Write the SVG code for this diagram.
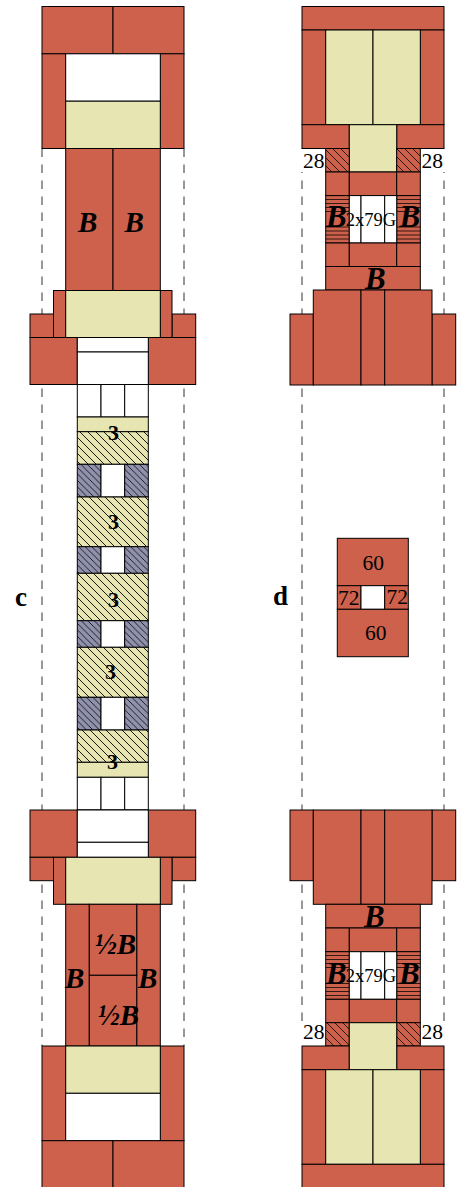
<svg xmlns="http://www.w3.org/2000/svg" width="461" height="1187" viewBox="0 0 461 1187">
<style>
rect{stroke:#000;stroke-width:1}
.r{fill:#cd614c}.y{fill:#e7e5b2}.w{fill:#fff}.b{fill:#9091ac}
.hy{fill:url(#hy)}.hb{fill:url(#hb)}.hr{fill:url(#hr)}
.bg{fill:#fff;stroke:none}
.d{stroke:#333;stroke-width:1;stroke-dasharray:8.5 7.5;fill:none}
.h{stroke:#000;stroke-width:1;opacity:.75}
text{font-family:"Liberation Serif","Times New Roman",serif;fill:#000}
.B{font-size:29px;font-weight:bold;font-style:italic}
.C{font-size:31px;font-weight:bold;font-style:italic}
.n{font-size:21.500px}
.g{font-size:18.500px}
.t{font-size:22px;font-weight:bold}
.l{font-size:27px;font-weight:bold}
</style>
<defs>
<pattern id="hy" patternUnits="userSpaceOnUse" width="8" height="8"><rect width="8" height="8" style="fill:#e7e5b2;stroke:none"/><path d="M-1,-1L9,9M-1,7L1,9M7,-1L9,1" stroke="#000" stroke-width="0.9"/></pattern>
<pattern id="hb" patternUnits="userSpaceOnUse" width="6.500" height="6.500"><rect width="6.500" height="6.500" style="fill:#9091ac;stroke:none"/><path d="M-1,-1L7.500,7.500M-1,5.500L1,7.500M5.500,-1L7.500,1" stroke="#000" stroke-width="0.8"/></pattern>
<pattern id="hr" patternUnits="userSpaceOnUse" width="8" height="8"><rect width="8" height="8" style="fill:#cd614c;stroke:none"/><path d="M-1,-1L9,9M-1,7L1,9M7,-1L9,1" stroke="#000" stroke-width="0.8"/></pattern>
</defs>
<g id="connectors">
<path class="d" d="M42,148.500V1046M184,148.500V1046M302,148.500V1046M444,148.500V1046"/>
</g>
<g id="label-c"><text class="l" x="15" y="606">c</text></g>
<g id="label-d"><text class="l" x="273" y="605">d</text></g>
<g id="c-top">
<rect class="r" x="42" y="6.500" width="71" height="47.300"/><rect class="r" x="113" y="6.500" width="71" height="47.300"/>
<rect class="r" x="42" y="53.800" width="23.700" height="94.700"/><rect class="r" x="160.300" y="53.800" width="23.700" height="94.700"/>
<rect class="w" x="65.700" y="53.800" width="94.600" height="47.400"/><rect class="y" x="65.700" y="101.200" width="94.600" height="47.300"/>
</g>
<g id="c-top-column">
<rect class="r" x="65.700" y="148.500" width="47.300" height="142"/><rect class="r" x="113" y="148.500" width="47.300" height="142"/>
<text class="B" x="78" y="232">B</text><text class="B" x="124.500" y="232">B</text>
</g>
<g id="c-top-flange">
<rect class="r" x="30" y="314" width="23.500" height="23.500"/><rect class="r" x="172" y="314" width="23.700" height="23.500"/>
<rect class="r" x="53.500" y="290.500" width="12.200" height="47"/><rect class="r" x="160.300" y="290.500" width="11.700" height="47"/>
<rect class="y" x="65.700" y="290.500" width="94.600" height="47"/>
<rect class="r" x="30" y="337.500" width="47.300" height="47"/><rect class="r" x="148.300" y="337.500" width="47.400" height="47"/>
<rect class="w" x="77.300" y="337.500" width="71" height="14.500"/><rect class="w" x="77.300" y="352" width="71" height="32.500"/>
</g>
<g id="c-stack">
<rect class="w" x="77.300" y="384.500" width="23.700" height="32.500"/><rect class="w" x="101" y="384.500" width="23.700" height="32.500"/><rect class="w" x="124.700" y="384.500" width="23.600" height="32.500"/>
<rect class="y" x="77.300" y="417" width="71" height="14.700"/>
<rect class="hy" x="77.300" y="431.700" width="71" height="32.600"/>
<rect class="hb" x="77.300" y="464.300" width="23.700" height="32.700"/><rect class="w" x="101" y="464.300" width="23.700" height="32.700"/><rect class="hb" x="124.700" y="464.300" width="23.600" height="32.700"/>
<rect class="hy" x="77.300" y="497" width="71" height="49.700"/>
<rect class="hb" x="77.300" y="546.700" width="23.700" height="26.600"/><rect class="w" x="101" y="546.700" width="23.700" height="26.600"/><rect class="hb" x="124.700" y="546.700" width="23.600" height="26.600"/>
<rect class="hy" x="77.300" y="573.300" width="71" height="47.400"/>
<rect class="hb" x="77.300" y="620.700" width="23.700" height="26.600"/><rect class="w" x="101" y="620.700" width="23.700" height="26.600"/><rect class="hb" x="124.700" y="620.700" width="23.600" height="26.600"/>
<rect class="hy" x="77.300" y="647.300" width="71" height="50"/>
<rect class="hb" x="77.300" y="697.300" width="23.700" height="32.700"/><rect class="w" x="101" y="697.300" width="23.700" height="32.700"/><rect class="hb" x="124.700" y="697.300" width="23.600" height="32.700"/>
<rect class="hy" x="77.300" y="730" width="71" height="32.300"/>
<rect class="y" x="77.300" y="762.300" width="71" height="15"/>
<rect class="w" x="77.300" y="777.300" width="23.700" height="32.500"/><rect class="w" x="101" y="777.300" width="23.700" height="32.500"/><rect class="w" x="124.700" y="777.300" width="23.600" height="32.500"/>
<text class="t" x="108" y="440">3</text><text class="t" x="108" y="529">3</text><text class="t" x="108" y="606.500">3</text><text class="t" x="105" y="679">3</text><text class="t" x="107" y="768.500">3</text>
</g>
<g id="c-bottom-flange">
<rect class="r" x="30" y="810" width="47.300" height="47.300"/><rect class="r" x="148.300" y="810" width="47.400" height="47.300"/>
<rect class="w" x="77.300" y="810" width="71" height="32.300"/><rect class="w" x="77.300" y="842.300" width="71" height="15"/>
<rect class="r" x="30" y="857.300" width="23.500" height="23.400"/><rect class="r" x="172" y="857.300" width="23.700" height="23.400"/>
<rect class="r" x="53.500" y="857.300" width="12.200" height="47"/><rect class="r" x="160.300" y="857.300" width="11.700" height="47"/>
<rect class="y" x="65.700" y="857.300" width="94.600" height="47"/>
</g>
<g id="c-bottom-column">
<rect class="r" x="65.700" y="904.300" width="23.600" height="141.700"/><rect class="r" x="136.700" y="904.300" width="23.600" height="141.700"/>
<rect class="r" x="89.300" y="904.300" width="47.400" height="71"/><rect class="r" x="89.300" y="975.300" width="47.400" height="70.700"/>
<text class="B" x="95" y="954">½B</text><text class="B" x="98" y="1025">½B</text>
<text class="B" x="65" y="988">B</text><text class="B" x="138" y="988">B</text>
</g>
<g id="c-bottom">
<rect class="r" x="42" y="1046" width="23.700" height="94.700"/><rect class="r" x="160.300" y="1046" width="23.700" height="94.700"/>
<rect class="y" x="65.700" y="1046" width="94.600" height="47.300"/><rect class="w" x="65.700" y="1093.300" width="94.600" height="47.400"/>
<rect class="r" x="42" y="1140.700" width="71" height="47"/><rect class="r" x="113" y="1140.700" width="71" height="47"/>
</g>
<g id="d-top">
<rect class="r" x="302" y="6.500" width="142" height="23.500"/>
<rect class="r" x="302" y="30" width="23.700" height="94.700"/><rect class="r" x="420.300" y="30" width="23.700" height="94.700"/>
<rect class="y" x="325.700" y="30" width="47.300" height="94.700"/><rect class="y" x="373" y="30" width="47.300" height="94.700"/>
<rect class="r" x="302" y="124.700" width="47.300" height="23.800"/><rect class="r" x="396.700" y="124.700" width="47.300" height="23.800"/>
<rect class="y" x="349.300" y="124.700" width="47.400" height="47.300"/>
</g>
<g id="d-top-coil">
<rect class="bg" x="298" y="149" width="27.200" height="23"/><rect class="bg" x="420.800" y="149" width="27.200" height="23"/>
<rect class="hr" x="325.700" y="148.500" width="23.600" height="23.500"/><rect class="hr" x="396.700" y="148.500" width="23.600" height="23.500"/>
<text class="n" x="303" y="168">28</text><text class="n" x="421.500" y="168">28</text>
<rect class="r" x="325.700" y="172" width="23.600" height="23.600"/><rect class="r" x="349.300" y="172" width="47.400" height="23.600"/><rect class="r" x="396.700" y="172" width="23.600" height="23.600"/>
<rect class="r" x="325.700" y="195.600" width="23.600" height="47.400"/><rect class="r" x="396.700" y="195.600" width="23.600" height="47.400"/>
<path class="h" d="M325.700,199.500H349.300M325.700,203.500H349.300M325.700,207.500H349.300M325.700,211.500H349.300M325.700,227H349.300M325.700,231H349.300M325.700,235H349.300M325.700,239H349.300M396.700,199.500H420.300M396.700,203.500H420.300M396.700,207.500H420.300M396.700,211.500H420.300M396.700,227H420.300M396.700,231H420.300M396.700,235H420.300M396.700,239H420.300"/>
<rect class="w" x="349.300" y="195.600" width="11.700" height="47.400"/><rect class="w" x="361" y="195.600" width="23.700" height="47.400"/><rect class="w" x="384.700" y="195.600" width="12" height="47.400"/>
<rect class="r" x="325.700" y="243" width="23.600" height="23.500"/><rect class="r" x="349.300" y="243" width="47.400" height="23.500"/><rect class="r" x="396.700" y="243" width="23.600" height="23.500"/>
<rect class="r" x="325.700" y="266.500" width="94.600" height="23.500"/>
<text class="C" x="326" y="227">B</text><text class="C" x="399.500" y="227">B</text><text class="g" x="345.700" y="226">2x79G</text><text class="C" x="365" y="288.500">B</text>
</g>
<g id="d-top-flange">
<rect class="r" x="290" y="314" width="23.300" height="71"/><rect class="r" x="432" y="314" width="23.700" height="71"/>
<rect class="r" x="313.300" y="290" width="47.700" height="95"/><rect class="r" x="361" y="290" width="23.700" height="95"/><rect class="r" x="384.700" y="290" width="47.300" height="95"/>
</g>
<g id="d-middle">
<rect class="r" x="337.300" y="538.300" width="71" height="47.400"/>
<rect class="r" x="337.300" y="585.700" width="23.700" height="23.600"/><rect class="w" x="361" y="585.700" width="23.700" height="23.600"/><rect class="r" x="384.700" y="585.700" width="23.600" height="23.600"/>
<rect class="r" x="337.300" y="609.300" width="71" height="47.400"/>
<text class="n" x="362.500" y="570">60</text><text class="n" x="365" y="640">60</text><text class="n" x="338" y="605">72</text><text class="n" x="386.500" y="603.500">72</text>
</g>
<g id="d-bottom-flange">
<rect class="r" x="290" y="810" width="23.300" height="70.700"/><rect class="r" x="432" y="810" width="23.700" height="70.700"/>
<rect class="r" x="313.300" y="810" width="47.700" height="94.300"/><rect class="r" x="361" y="810" width="23.700" height="94.300"/><rect class="r" x="384.700" y="810" width="47.300" height="94.300"/>
</g>
<g id="d-bottom-coil">
<rect class="r" x="325.700" y="904.300" width="94.600" height="23.700"/>
<rect class="r" x="325.700" y="928" width="23.600" height="23.700"/><rect class="r" x="349.300" y="928" width="47.400" height="23.700"/><rect class="r" x="396.700" y="928" width="23.600" height="23.700"/>
<rect class="r" x="325.700" y="951.700" width="23.600" height="47.600"/><rect class="r" x="396.700" y="951.700" width="23.600" height="47.600"/>
<path class="h" d="M325.700,955.500H349.300M325.700,959.500H349.300M325.700,963.500H349.300M325.700,967.500H349.300M325.700,983.500H349.300M325.700,987.500H349.300M325.700,991.500H349.300M325.700,995.500H349.300M396.700,955.500H420.300M396.700,959.500H420.300M396.700,963.500H420.300M396.700,967.500H420.300M396.700,983.500H420.300M396.700,987.500H420.300M396.700,991.500H420.300M396.700,995.500H420.300"/>
<rect class="w" x="349.300" y="951.700" width="11.700" height="47.600"/><rect class="w" x="361" y="951.700" width="23.700" height="47.600"/><rect class="w" x="384.700" y="951.700" width="12" height="47.600"/>
<rect class="r" x="325.700" y="999.300" width="23.600" height="23.400"/><rect class="r" x="349.300" y="999.300" width="47.400" height="23.400"/><rect class="r" x="396.700" y="999.300" width="23.600" height="23.400"/>
<rect class="bg" x="298" y="1023" width="27.200" height="23"/><rect class="bg" x="420.800" y="1023" width="27.200" height="23"/>
<rect class="hr" x="325.700" y="1022.700" width="23.600" height="23.300"/><rect class="hr" x="396.700" y="1022.700" width="23.600" height="23.300"/>
<text class="n" x="303" y="1039">28</text><text class="n" x="421.500" y="1039">28</text>
<text class="C" x="364" y="927">B</text><text class="C" x="326" y="984">B</text><text class="C" x="399" y="984">B</text><text class="g" x="345.700" y="981.500">2x79G</text>
</g>
<g id="d-bottom">
<rect class="r" x="302" y="1046" width="47.300" height="23.700"/><rect class="r" x="396.700" y="1046" width="47.300" height="23.700"/>
<rect class="y" x="349.300" y="1022.700" width="47.400" height="47"/>
<rect class="r" x="302" y="1069.700" width="23.700" height="94.600"/><rect class="r" x="420.300" y="1069.700" width="23.700" height="94.600"/>
<rect class="y" x="325.700" y="1069.700" width="47.300" height="94.600"/><rect class="y" x="373" y="1069.700" width="47.300" height="94.600"/>
<rect class="r" x="302" y="1164.300" width="142" height="23.700"/>
</g>
</svg>
